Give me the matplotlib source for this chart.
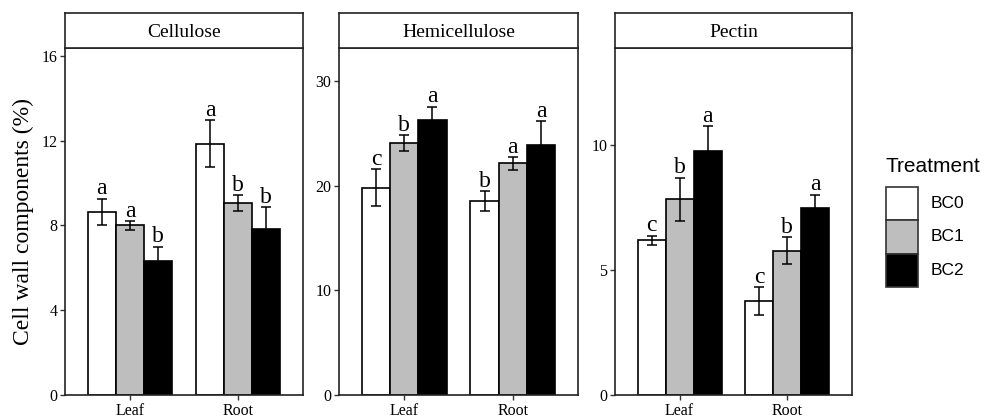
import numpy as np
import matplotlib.pyplot as plt
from matplotlib.patches import Rectangle

# data
components = ["Cellulose", "Hemicellulose", "Pectin"]
tissues = ["Leaf", "Root"]
treatments = ["BC0", "BC1", "BC2"]
colors = ["white", "#bebebe", "black"]

# means per component: [tissue][treatment]
cellulose = [[8.65, 8.0, 6.3], [11.85, 9.05, 7.85]]
cellulose_err = [[0.62, 0.2, 0.7], [1.1, 0.37, 1.0]]
cellulose_sig = [["a", "a", "b"], ["a", "b", "b"]]

hemicellulose = [[19.85, 24.1, 26.3], [18.6, 22.15, 23.9]]
hemicellulose_err = [[1.75, 0.75, 1.3], [0.95, 0.6, 2.3]]
hemicellulose_sig = [["c", "b", "a"], ["b", "a", "a"]]

pectin = [[6.2, 7.83, 9.76], [3.77, 5.78, 7.5]]
pectin_err = [[0.18, 0.87, 1.0], [0.55, 0.55, 0.52]]
pectin_sig = [["c", "b", "a"], ["c", "b", "a"]]

means = [cellulose, hemicellulose, pectin]
errs = [cellulose_err, hemicellulose_err, pectin_err]
sigs = [cellulose_sig, hemicellulose_sig, pectin_sig]
yticks = [[0, 4, 8, 12, 16], [0, 10, 20, 30], [0, 5, 10]]
ylims = [16.37, 33.2, 13.89]

serif = "Liberation Serif"
sans = "Liberation Sans"

W, H = 987, 417
fig = plt.figure(figsize=(W / 100, H / 100), dpi=100)

# panel placement in pixels (left, width)
panels = [(65, 238), (339, 239), (615, 237)]
ax_top, ax_bot = 48, 395
strip_top = 13

width = 0.26
x = np.arange(len(tissues)) + 1

for k, (left, pw) in enumerate(panels):
    ax = fig.add_axes([left / W, 1 - ax_bot / H, pw / W, (ax_bot - ax_top) / H])
    for j, tr in enumerate(treatments):
        vals = [means[k][i][j] for i in range(len(tissues))]
        ev = [errs[k][i][j] for i in range(len(tissues))]
        xs = x + (j - 1) * width
        ax.bar(xs, vals, width, color=colors[j], edgecolor="black", linewidth=1.2, zorder=2)
        ax.errorbar(xs, vals, yerr=ev, fmt="none", ecolor="black", elinewidth=1.1,
                    capsize=3.5, capthick=1.1, zorder=3)
        for xi, v, e, s in zip(xs, vals, ev, [sigs[k][i][j] for i in range(len(tissues))]):
            ax.annotate(s, (xi, v + e), xytext=(0, 3), textcoords="offset points",
                        ha="center", va="baseline", fontsize=17, family=serif)
    ax.set_xlim(0.4, 2.6)
    ax.set_ylim(0, ylims[k])
    ax.set_xticks(x)
    ax.set_xticklabels(tissues, family=serif, fontsize=11.5)
    ax.set_yticks(yticks[k])
    ax.set_yticklabels([str(t) for t in yticks[k]], family=serif, fontsize=11.5)
    ax.tick_params(direction="out", length=3.5, width=1, color="#333333", pad=2)
    for sp in ax.spines.values():
        sp.set_linewidth(1.2)
        sp.set_color("#222222")

    # facet strip
    sax = fig.add_axes([left / W, 1 - ax_top / H, pw / W, (ax_top - strip_top) / H])
    sax.set_xticks([])
    sax.set_yticks([])
    for sp in sax.spines.values():
        sp.set_linewidth(1.2)
        sp.set_color("#222222")
    sax.text(0.5, 0.45, components[k], ha="center", va="center", fontsize=14,
             family=serif, transform=sax.transAxes)

fig.text(23 / W, 1 - ((ax_top + ax_bot) / 2) / H, "Cell wall components (%)",
         rotation=90, ha="center", va="center", fontsize=17, family=serif)

# legend drawn by hand to match the ggplot keys
fig.text(886 / W, 1 - 172 / H, "Treatment", fontsize=15, family=sans, va="baseline")
kx, kw, kh, ky = 886, 32, 33.3, 187
for j, tr in enumerate(treatments):
    y0 = ky + j * kh
    fig.patches.append(Rectangle((kx / W, 1 - (y0 + kh) / H), kw / W, kh / H,
                                 transform=fig.transFigure, facecolor=colors[j],
                                 edgecolor="#333333", linewidth=1.2))
    fig.text(931 / W, 1 - (y0 + kh / 2) / H, tr, fontsize=12.5, family=sans, va="center")

fig.savefig("out.png", dpi=100)
